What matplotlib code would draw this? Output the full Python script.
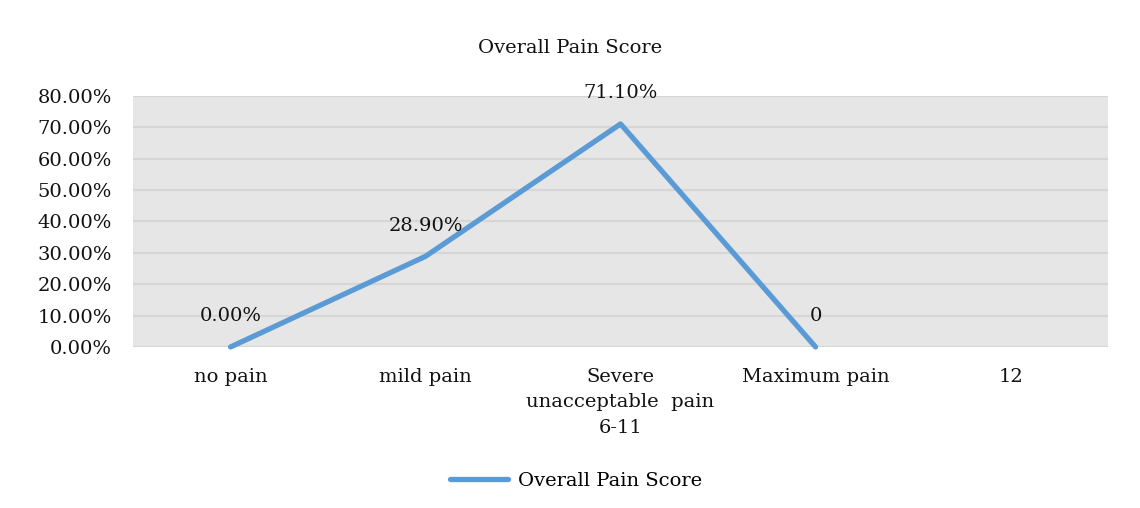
import matplotlib.pyplot as plt
from matplotlib.ticker import PercentFormatter

# data
categories = ["no pain", "mild pain", "Severe\nunacceptable  pain\n6-11", "Maximum pain", "12"]
scores = [0.0, 0.289, 0.711, 0.0]
point_labels = ["0.00%", "28.90%", "71.10%", "0"]
series_name = "Overall Pain Score"

plt.rcParams["font.family"] = ["DejaVu Serif"]

fig = plt.figure(figsize=(11.4, 5.08), dpi=100)
ax = fig.add_axes([0.1167, 0.317, 0.8553, 0.494])
ax.set_facecolor("#E6E6E6")

xpos = list(range(len(scores)))
ax.plot(xpos, scores, color="#5B9BD5", linewidth=3.8, solid_capstyle="round",
        label=series_name, zorder=3, clip_on=False)
for x, y, txt in zip(xpos, scores, point_labels):
    ax.annotate(txt, (x, y), xytext=(0, 22), textcoords="offset points",
                ha="center", va="center", fontsize=14, color="#111111")

ax.set_xlim(-0.5, len(categories) - 0.5)
ax.set_ylim(0, 0.8)
ax.set_yticks([i / 10 for i in range(9)])
ax.yaxis.set_major_formatter(PercentFormatter(1.0, decimals=2))
ax.set_xticks(range(len(categories)))
ax.set_xticklabels(categories, linespacing=1.55)
ax.tick_params(axis="both", length=0, labelsize=14, colors="#111111")
ax.tick_params(axis="x", pad=15)
ax.tick_params(axis="y", pad=15)
ax.grid(axis="y", color="#D6D6D6", linewidth=1.6)
ax.set_axisbelow(True)
for spine in ax.spines.values():
    spine.set_visible(False)

fig.text(0.5, 0.905, series_name, ha="center", va="center", fontsize=14, color="#111111")
fig.legend(loc="center", bbox_to_anchor=(0.505, 0.053), frameon=False, fontsize=14,
           handlelength=3.0, handletextpad=0.5)

fig.savefig("out.png", dpi=100)
